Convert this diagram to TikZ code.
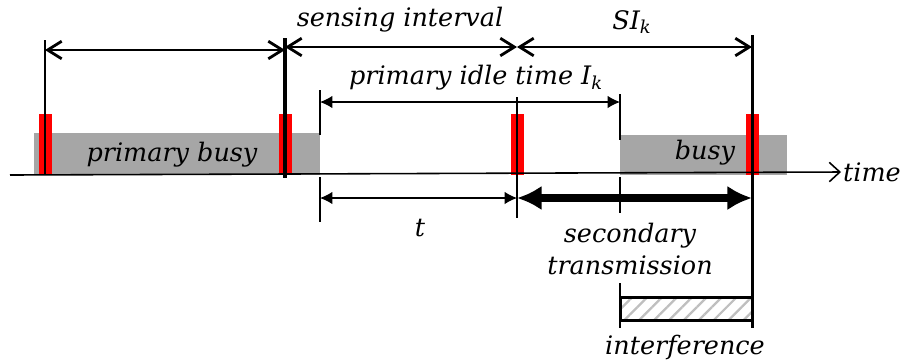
\documentclass[tikz,border=0pt]{standalone}
\usepackage{fontspec}
\setmainfont{DejaVu Serif}
\usetikzlibrary{arrows.meta,patterns.meta}
\begin{document}
\begin{tikzpicture}[
    x=0.02cm, y=-0.02cm,
    lbl/.style={font=\fontsize{14.5}{18.7}\selectfont\itshape, inner sep=1pt},
    busy/.style={fill=black!35},
    pulse/.style={fill=red},
    vline/.style={line width=#1},
    dim/.style={{Straight Barb[length=8pt,width=10pt]}-{Straight Barb[length=8pt,width=10pt]}, line width=1.6pt},
    span/.style={{Latex[length=7pt,width=7pt]}-{Latex[length=7pt,width=7pt]}, line width=0.6pt},
    txarrow/.style={{Latex[length=14pt,width=14pt]}-{Latex[length=14pt,width=14pt]}, line width=4.5pt}
]
    \useasboundingbox (0,0) rectangle (909,363);

    % Points de mesure
    \coordinate (a0) at (45,50);
    \coordinate (a1) at (285,50);
    \coordinate (b1) at (285,47);
    \coordinate (b2) at (517,47);
    \coordinate (b3) at (752,47);
    \coordinate (c0) at (320,102);
    \coordinate (c1) at (620,102);
    \coordinate (d0) at (320,198);
    \coordinate (d1) at (517,198);
    \coordinate (d2) at (752,198);
    \coordinate (origin) at (10,175);

    % Périodes occupées et impulsions
    \fill[busy] (34,133) rectangle (320,175);
    \fill[busy] (620,135) rectangle (787,175);
    \foreach \x in {45,285,517,752}
        \fill[pulse] (\x-6.5,114) rectangle (\x+6.5,175);

    % Textes
    \node[lbl] (pbusy) at (172,155) {primary busy};
    \node[lbl] (sbusy) at (705,153) {busy};
    \node[lbl, anchor=west] (time) at (841,172) {time};
    \node[lbl] (sensing) at (400,20) {sensing interval};
    \node[lbl] (si) at (632,22) {SI\textsubscript{k}};
    \node[lbl] (idle) at (476,78) {primary idle time I\textsubscript{k}};
    \node[lbl] (tlen) at (420,228) {t};
    \node[lbl, align=center] (sec) at (630,249) {secondary\\transmission};
    \node[lbl] (intf) at (685,347) {interference};

    % Axe du temps
    \draw[line width=0.9pt, -{Straight Barb[length=6pt,width=11pt]}] (origin) -- (time.west);

    % Traits verticaux
    \draw[vline=1.7pt] (45,40) -- (45,175);
    \draw[vline=1.8pt] (285,38) -- (285,178);
    \draw[vline=1.3pt] (517,97) -- (517,218);
    \draw[vline=1.7pt] (752,35) -- (752,328);
    \draw[vline=1.2pt] (320,90) -- (320,135) (320,177) -- (320,222);
    \draw[vline=1.2pt] (620,94) -- (620,140) (620,177) -- (620,213) (620,283) -- (620,328);

    % Intervalles
    \draw[dim] (a0) -- (a1);
    \draw[dim] (b1) -- (b2);
    \draw[dim] (b2) -- (b3);
    \draw[span] (c0) -- (c1);
    \draw[span] (d0) -- (d1);
    \draw[txarrow] (d1) -- (d2);

    % Interférence
    \draw[line width=1.7pt, pattern={Lines[angle=45,distance=6pt,line width=1.3pt]}, pattern color=black!25]
        (620,297) rectangle (752,320);

\end{tikzpicture}
\end{document}
